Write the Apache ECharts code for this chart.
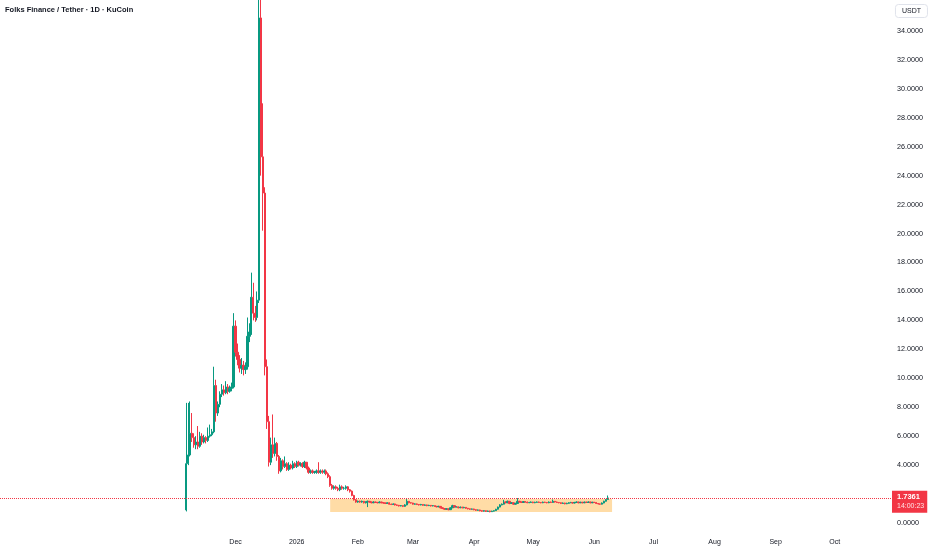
<!DOCTYPE html>
<html>
<head>
<meta charset="utf-8">
<script src="https://cdn.jsdelivr.net/npm/echarts@6/dist/echarts.min.js"></script>
<style>html,body{margin:0;padding:0;background:#ffffff}#chart{width:932px;height:550px}</style>
</head>
<body>
<div id="chart"></div>
<script>
// ---- data ----
const chartTitle = 'Folks Finance / Tether · 1D · KuCoin';
const currency = 'USDT';
const axisStart = '2025-08-04';   // first day of the visible time scale
const axisDays = 452;             // number of daily slots on the time scale
const candleStart = '2025-11-06'; // first daily candle
const firstOpen = 0.9;
const closes = [
  4.1, 4.7, 6.2, 5.9, 5.4, 5.6, 5.3, 6.0, 5.6, 5.9,
  5.7, 6.0, 6.1, 6.3, 9.5, 7.6, 8.2, 8.9, 9.2, 9.0,
  9.4, 9.1, 9.3, 9.4, 13.6, 11.8, 11.3, 10.7, 10.9, 10.6,
  10.8, 12.9, 13.2, 15.6, 14.5, 14.2, 15.4, 34.9, 25.3, 22.8,
  10.8, 7.0, 4.2, 5.4, 4.8, 5.5, 4.6, 3.6, 4.3, 3.9,
  4.1, 3.7, 4.0, 3.8, 4.1, 3.9, 4.2, 4.0, 4.1, 3.9,
  4.2, 3.8, 3.5, 3.6, 3.5, 3.5, 3.6, 3.5, 3.6, 3.5,
  3.6, 3.4, 3.2, 2.6, 2.4, 2.5, 2.4, 2.3, 2.5, 2.4,
  2.4, 2.5, 2.3, 2.2, 1.9, 1.6, 1.45, 1.5, 1.45, 1.5,
  1.4, 1.45, 1.5, 1.45, 1.4, 1.45, 1.42, 1.4, 1.45, 1.4,
  1.38, 1.35, 1.4, 1.3, 1.28, 1.32, 1.25, 1.22, 1.18, 1.2,
  1.15, 1.25, 1.5, 1.4, 1.38, 1.3, 1.32, 1.28, 1.25, 1.28,
  1.22, 1.25, 1.2, 1.22, 1.18, 1.2, 1.15, 1.12, 1.15, 1.05,
  1.0, 0.95, 0.98, 0.92, 1.05, 1.2, 1.1, 1.12, 1.05, 1.1,
  1.05, 1.08, 1.02, 0.98, 0.95, 0.97, 0.92, 0.88, 0.9, 0.85,
  0.82, 0.85, 0.8, 0.83, 0.78, 0.82, 0.85, 0.95, 1.1, 1.25,
  1.3, 1.45, 1.4, 1.5, 1.35, 1.4, 1.3, 1.35, 1.5, 1.45,
  1.42, 1.48, 1.45, 1.4, 1.42, 1.45, 1.4, 1.43, 1.45, 1.42,
  1.4, 1.44, 1.42, 1.4, 1.45, 1.42, 1.5, 1.45, 1.42, 1.4,
  1.35, 1.38, 1.33, 1.36, 1.4, 1.42, 1.38, 1.42, 1.45, 1.4,
  1.43, 1.4, 1.44, 1.42, 1.45, 1.4, 1.43, 1.42, 1.35, 1.32,
  1.3, 1.38, 1.5, 1.62, 1.7361
];
const highs = [
  8.3, 8.3, 8.4, 7.6, 6.2, 6.0, 6.7, 6.3, 6.2, 6.1,
  6.0, 6.6, 6.8, 6.5, 10.8, 9.9, 8.4, 9.1, 9.6, 9.5,
  9.8, 9.6, 9.5, 9.7, 14.5, 14.0, 12.4, 11.6, 11.4, 11.2,
  11.1, 14.2, 13.8, 17.3, 16.6, 15.0, 16.0, 38.0, 37.5, 29.0,
  23.2, 11.3, 7.4, 5.9, 7.5, 5.9, 5.6, 4.7, 4.5, 4.4,
  4.6, 4.2, 4.2, 4.1, 4.3, 4.2, 4.3, 4.3, 4.2, 4.2,
  4.3, 4.2, 3.9, 3.7, 3.7, 3.6, 3.7, 4.2, 3.7, 3.7,
  3.7, 3.7, 3.5, 3.3, 2.7, 2.6, 2.6, 2.5, 2.65, 2.6,
  2.5, 2.6, 2.55, 2.35, 2.25, 1.95, 1.65, 1.55, 1.55, 1.55,
  1.52, 1.5, 1.55, 1.52, 1.48, 1.5, 1.48, 1.46, 1.5, 1.47,
  1.44, 1.41, 1.44, 1.42, 1.34, 1.36, 1.34, 1.28, 1.25, 1.24,
  1.22, 1.3, 1.65, 1.52, 1.44, 1.4, 1.36, 1.35, 1.31, 1.32,
  1.3, 1.29, 1.27, 1.26, 1.24, 1.24, 1.22, 1.18, 1.19, 1.17,
  1.08, 1.03, 1.02, 1.0, 1.08, 1.26, 1.22, 1.16, 1.14, 1.14,
  1.12, 1.12, 1.1, 1.04, 1.0, 1.0, 0.99, 0.94, 0.93, 0.92,
  0.87, 0.88, 0.87, 0.86, 0.85, 0.85, 0.88, 0.98, 1.13, 1.3,
  1.35, 1.6, 1.5, 1.55, 1.52, 1.45, 1.42, 1.4, 1.72, 1.53,
  1.48, 1.52, 1.51, 1.48, 1.46, 1.49, 1.47, 1.47, 1.49, 1.48,
  1.45, 1.48, 1.47, 1.45, 1.49, 1.48, 1.62, 1.52, 1.48, 1.45,
  1.42, 1.42, 1.4, 1.4, 1.44, 1.46, 1.45, 1.46, 1.49, 1.47,
  1.47, 1.46, 1.48, 1.47, 1.49, 1.47, 1.47, 1.46, 1.44, 1.38,
  1.35, 1.42, 1.54, 1.66, 1.9
];
const lows = [
  0.8, 4.0, 4.6, 5.6, 5.2, 5.1, 5.1, 5.2, 5.4, 5.5,
  5.5, 5.6, 5.9, 6.0, 6.2, 7.0, 7.4, 8.0, 8.7, 8.8,
  8.9, 8.9, 9.0, 9.1, 9.3, 11.5, 10.9, 10.4, 10.3, 10.2,
  10.3, 10.6, 12.5, 13.0, 14.0, 13.9, 14.0, 15.2, 24.0, 20.2,
  10.2, 6.5, 3.9, 4.0, 4.5, 4.6, 4.3, 3.4, 3.5, 3.7,
  3.8, 3.6, 3.6, 3.7, 3.7, 3.8, 3.8, 3.9, 3.9, 3.8,
  3.8, 3.7, 3.4, 3.4, 3.4, 3.4, 3.4, 3.4, 3.4, 3.4,
  3.4, 3.3, 3.1, 2.5, 2.3, 2.3, 2.3, 2.2, 2.2, 2.3,
  2.3, 2.3, 2.2, 2.1, 1.85, 1.55, 1.4, 1.4, 1.4, 1.4,
  1.35, 1.35, 1.1, 1.4, 1.36, 1.37, 1.38, 1.36, 1.37, 1.36,
  1.34, 1.31, 1.32, 1.27, 1.24, 1.25, 1.21, 1.18, 1.14, 1.15,
  1.1, 1.12, 1.22, 1.36, 1.34, 1.27, 1.27, 1.24, 1.21, 1.22,
  1.19, 1.19, 1.16, 1.17, 1.14, 1.15, 1.11, 1.08, 1.09, 1.01,
  0.96, 0.9, 0.92, 0.88, 0.9, 1.03, 1.06, 1.07, 1.01, 1.02,
  1.01, 1.02, 0.98, 0.94, 0.91, 0.92, 0.88, 0.84, 0.85, 0.81,
  0.78, 0.79, 0.76, 0.77, 0.74, 0.76, 0.79, 0.83, 0.93, 1.08,
  1.22, 1.28, 1.36, 1.37, 1.3, 1.32, 1.26, 1.27, 1.33, 1.41,
  1.38, 1.4, 1.41, 1.37, 1.37, 1.39, 1.37, 1.37, 1.4, 1.38,
  1.36, 1.37, 1.38, 1.36, 1.37, 1.38, 1.4, 1.41, 1.38, 1.36,
  1.31, 1.32, 1.29, 1.3, 1.33, 1.37, 1.34, 1.35, 1.39, 1.36,
  1.37, 1.36, 1.37, 1.38, 1.39, 1.36, 1.37, 1.38, 1.31, 1.28,
  1.26, 1.28, 1.36, 1.48, 1.6
];
const lastPrice = 1.7361;
const countdown = '14:00:23';
const zoneStart = '2026-01-18';
const zoneEnd = '2026-06-10';
const zoneTop = 1.66;
const zoneBottom = 0.76;
const firstLabelDate = '2025-12-01';
const monthNames = ['Jan','Feb','Mar','Apr','May','Jun','Jul','Aug','Sep','Oct','Nov','Dec'];
const yMin = 0, yMax = 36.14, yStep = 2, yLastLabel = 34;

// ---- build categories and candle rows ----
const DAY = 86400000;
function parseDay(s) { const p = s.split('-').map(Number); return Date.UTC(p[0], p[1] - 1, p[2]); }
function fmtDay(t) { return new Date(t).toISOString().slice(0, 10); }
const t0 = parseDay(axisStart);
const categories = [];
for (let i = 0; i < axisDays; i++) categories.push(fmtDay(t0 + i * DAY));
const c0 = parseDay(candleStart);
// rows: [date, open, close, low, high]
const candleRows = closes.map((c, j) => [
  fmtDay(c0 + j * DAY), j === 0 ? firstOpen : closes[j - 1], c, lows[j], highs[j]
]);

const UP = '#089981', DOWN = '#F23645', TEXT = '#131722';
const FONT = '"Liberation Sans", Arial, sans-serif';

const chart = echarts.init(document.getElementById('chart'), null, { renderer: 'canvas' });
chart.setOption({
  animation: false,
  backgroundColor: '#ffffff',
  title: [
    { text: chartTitle, left: 5, top: 6, padding: 0,
      textStyle: { fontFamily: FONT, fontSize: 7.5, fontWeight: 'bold', color: TEXT } },
    { text: currency, right: 4, top: 4, padding: [4, 7, 3, 7],
      borderColor: '#e0e3eb', borderWidth: 1, borderRadius: 3, backgroundColor: '#ffffff',
      textStyle: { fontFamily: FONT, fontSize: 7, fontWeight: 'normal', color: TEXT } }
  ],
  grid: { left: 0, right: 41, top: 0, bottom: 27, containLabel: false },
  xAxis: {
    type: 'category', data: categories, boundaryGap: true,
    axisLine: { show: false }, axisTick: { show: false }, splitLine: { show: false },
    axisLabel: {
      margin: 16, fontFamily: FONT, fontSize: 7, color: TEXT,
      interval: (idx, val) => val.slice(8) === '01' && val >= firstLabelDate,
      formatter: (val) => {
        const m = Number(val.slice(5, 7));
        return m === 1 ? val.slice(0, 4) : monthNames[m - 1];
      }
    }
  },
  yAxis: {
    type: 'value', position: 'right', min: yMin, max: yMax, interval: yStep, scale: false,
    axisLine: { show: false }, axisTick: { show: false }, splitLine: { show: false },
    axisLabel: { margin: 6, fontFamily: FONT, fontSize: 7.2, color: TEXT, showMaxLabel: false,
      formatter: (v) => (v > yLastLabel + 0.01 ? '' : v.toFixed(4)) }
  },
  series: [
    {
      type: 'line', data: [], z: 1, silent: true,
      markArea: {
        silent: true,
        itemStyle: { color: '#FFDCA6' },
        data: [[{ xAxis: zoneStart, yAxis: zoneTop }, { xAxis: zoneEnd, yAxis: zoneBottom }]]
      }
    },
    {
      type: 'candlestick', z: 3, data: candleRows,
      encode: { x: 0, y: [1, 2, 3, 4] },
      barWidth: 1.8, clip: true,
      itemStyle: { color: UP, color0: DOWN, borderColor: UP, borderColor0: DOWN,
        borderColorDoji: UP, borderWidth: 1 },
      markLine: {
        silent: true, symbol: ['none', 'none'], animation: false,
        lineStyle: { type: 'dotted', color: DOWN, width: 1 },
        label: {
          show: true, position: 'end', distance: 1, offset: [0, 4],
          backgroundColor: DOWN, padding: [2, 3, 2, 5],
          formatter: () => '{a|' + lastPrice.toFixed(4) + '}\n{b|' + countdown + '}',
          rich: {
            a: { fontFamily: FONT, fontSize: 7.5, fontWeight: 'bold', color: '#ffffff', lineHeight: 9 },
            b: { fontFamily: FONT, fontSize: 7, color: '#ffe3e6', lineHeight: 9 }
          }
        },
        data: [{ yAxis: lastPrice }]
      }
    }
  ]
});
</script>
</body>
</html>
